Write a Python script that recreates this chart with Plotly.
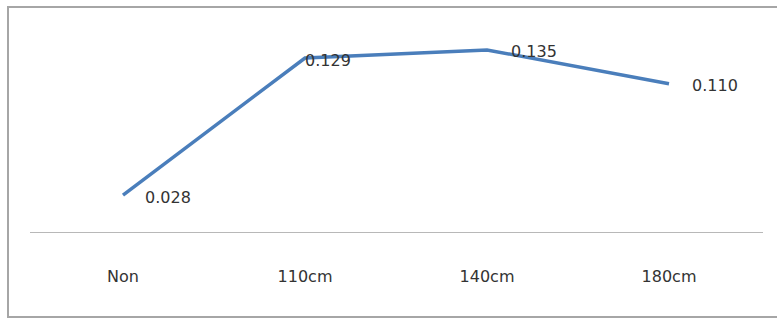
import plotly.graph_objects as go

# Category labels and measured values
categories = ["Non", "110cm", "140cm", "180cm"]
values = [0.028, 0.129, 0.135, 0.110]
value_labels = ["0.028", "0.129", "0.135", "0.110"]

# horizontal nudge for each value label (pixels)
label_shift = [20, -2, 22, 21]

W, H = 777, 320
m_l, m_r, m_t, m_b = 32, 17, 16, 87
pw, ph = W - m_l - m_r, H - m_t - m_b

def px_to_paper_x(px):
    return (px - m_l) / pw

def px_to_paper_y(py):
    return (H - m_b - py) / ph

fig = go.Figure()
fig.add_trace(go.Scatter(
    x=list(range(len(categories))),
    y=values,
    mode="lines",
    line=dict(color="#4a7ebb", width=3.5),
    hoverinfo="skip",
    showlegend=False,
))

for i, (v, t) in enumerate(zip(values, value_labels)):
    fig.add_annotation(
        x=i, y=v, text=t, showarrow=False,
        xanchor="left", yanchor="middle",
        xshift=label_shift[i], yshift=-2,
        font=dict(family="DejaVu Sans", size=16, color="#333333"),
    )

# outer chart frame
fig.add_shape(
    type="rect", xref="paper", yref="paper",
    x0=px_to_paper_x(8), x1=px_to_paper_x(790),
    y0=px_to_paper_y(317), y1=px_to_paper_y(7),
    line=dict(color="#a6a6a6", width=2), fillcolor="rgba(0,0,0,0)",
    layer="below",
)
# category axis line
fig.add_shape(
    type="line", xref="paper", yref="y",
    x0=px_to_paper_x(30), x1=px_to_paper_x(763), y0=0, y1=0,
    line=dict(color="#a0a0a0", width=1.5),
)

fig.update_layout(
    width=W, height=H,
    margin=dict(l=m_l, r=m_r, t=m_t, b=m_b),
    paper_bgcolor="white", plot_bgcolor="white",
    xaxis=dict(
        range=[-0.5, 3.5],
        tickmode="array",
        tickvals=list(range(len(categories))),
        ticktext=categories,
        showgrid=False, zeroline=False, showline=False,
        ticks="", ticklabelstandoff=32,
        tickfont=dict(family="DejaVu Sans", size=16, color="#333333"),
        fixedrange=True,
    ),
    yaxis=dict(
        range=[0, 0.16], visible=False, fixedrange=True,
    ),
)

fig.write_html("out.html")
